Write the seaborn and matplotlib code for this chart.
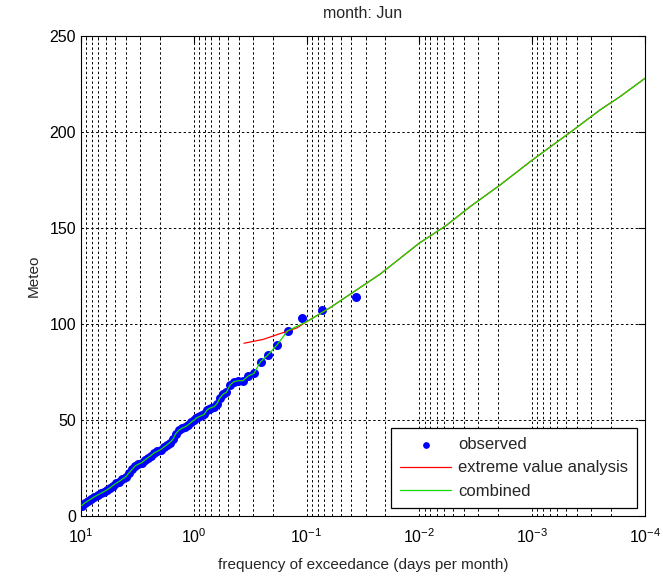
import numpy as np
import pandas as pd
import matplotlib
matplotlib.use("Agg")
import matplotlib.pyplot as plt
import seaborn as sns

# observed: frequency of exceedance (days per month) and value
obs_freq = [9.8, 9.2, 8.6, 8.1, 7.6, 7.1, 6.7, 6.3, 5.9, 5.5, 5.2, 4.9, 4.6, 4.3,
            4.0, 3.75, 3.5, 3.3, 3.1, 2.9, 2.7, 2.55, 2.4, 2.25, 2.1, 1.97, 1.85,
            1.74, 1.63, 1.53, 1.44, 1.35, 1.27, 1.19, 1.12, 1.05,
            0.989, 0.952, 0.916, 0.879, 0.842, 0.806, 0.769, 0.733, 0.696, 0.659,
            0.623, 0.586, 0.549, 0.513, 0.476, 0.440, 0.403, 0.366, 0.330, 0.293,
            0.256, 0.220, 0.183, 0.147, 0.110, 0.0733, 0.0366]
obs_val = [5.5, 7.0, 8.0, 9.0, 10.0, 11.0, 11.8, 12.6, 13.6, 14.8, 15.9, 17.0, 18.0, 19.2,
           20.5, 22.5, 24.5, 26.2, 27.0, 27.8, 29.3, 30.4, 31.5, 32.8, 33.8, 34.6, 35.8,
           37.0, 38.3, 40.0, 43.0, 44.8, 45.8, 46.5, 47.5, 49.0,
           50.0, 51.0, 51.5, 52.0, 52.5, 53.0, 55.0, 56.0, 56.5, 57.0,
           58.5, 61.5, 63.5, 64.5, 68.3, 70.0, 70.5, 70.5, 72.9, 74.3,
           80.4, 83.9, 89.1, 96.5, 103.0, 107.3, 114.0]

# extreme value analysis curve
eva_freq = [0.359, 0.243, 0.172, 0.122, 0.1, 0.062, 0.0223, 0.0101, 0.00573,
            0.00356, 0.00193, 0.001, 0.000433, 0.000251, 0.000167, 0.0001]
eva_val = [90.0, 92.0, 95.0, 98.0, 101.2, 108.5, 126.0, 142.0, 151.5,
           161.1, 172.4, 185.4, 201.0, 211.5, 218.4, 228.0]

obs = pd.DataFrame({"freq": obs_freq, "val": obs_val})
eva = pd.DataFrame({"freq": eva_freq, "val": eva_val})
# combined: observed down to ~0.14, extreme value fit below 0.1
comb = pd.concat([obs[obs.freq >= 0.14], eva[eva.freq <= 0.1]], ignore_index=True)

sns.set_style("white")
plt.rcParams["font.family"] = ["Liberation Sans", "DejaVu Sans"]
plt.rcParams["axes.linewidth"] = 0.8
plt.rcParams["mathtext.fontset"] = "custom"
plt.rcParams["mathtext.rm"] = "Liberation Sans"

fig, ax = plt.subplots(figsize=(6.63, 5.76), dpi=100)
fig.subplots_adjust(left=0.122, right=0.973, bottom=0.104, top=0.9375)

sns.scatterplot(data=obs, x="freq", y="val", ax=ax, color="#0000ff", s=42,
                linewidth=0, marker="o", label="observed", zorder=3)
sns.lineplot(data=eva, x="freq", y="val", ax=ax, color="#ff0000", linewidth=0.9,
             estimator=None, sort=False, label="extreme value analysis", zorder=4)
sns.lineplot(data=comb, x="freq", y="val", ax=ax, color="#11dd00", linewidth=0.9,
             estimator=None, sort=False, label="combined", zorder=5)

ax.set_xscale("log")
ax.set_xlim(10, 1e-4)
ax.set_ylim(0, 250)
ax.set_yticks(np.arange(0, 251, 50))
ax.set_xticks([10, 1, 0.1, 0.01, 0.001, 0.0001])

gkw = dict(color="black", linestyle=(0, (2.5, 2.5)), linewidth=0.7)
ax.grid(True, which="major", axis="both", **gkw)
ax.grid(True, which="minor", axis="x", **gkw)
ax.set_axisbelow(True)
for s in ax.spines.values():
    s.set_color("black")
ax.tick_params(which="both", direction="in", top=True, right=True,
               labelsize=11.5, colors="black")
ax.tick_params(which="major", length=5)
ax.tick_params(which="minor", length=3)
ax.tick_params(axis="x", pad=8)

ax.set_title("month: Jun", fontsize=11.5, pad=13)
ax.set_xlabel("frequency of exceedance (days per month)", fontsize=11, labelpad=9)
ax.set_ylabel("Meteo", fontsize=11, labelpad=6)

leg = ax.legend(loc="lower right", bbox_to_anchor=(0.986, 0.017), borderaxespad=0,
                fontsize=12, frameon=True, fancybox=False, edgecolor="black",
                framealpha=1, handlelength=3.1, handletextpad=0.4, markerscale=0.75,
                borderpad=0.55, labelspacing=0.5)
leg.get_frame().set_linewidth(0.9)

fig.savefig("out.png", dpi=100)
